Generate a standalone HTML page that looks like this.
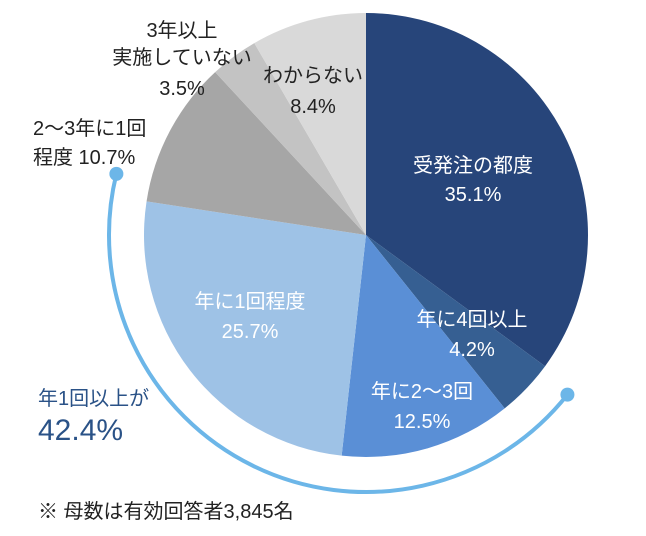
<!DOCTYPE html>
<html><head><meta charset="utf-8"><style>
body{margin:0;background:#fff;}
svg text{font-family:"Liberation Sans","Noto Sans CJK JP",sans-serif;}
</style></head><body>
<svg id="chart" width="646" height="531" viewBox="0 0 646 531" xmlns="http://www.w3.org/2000/svg">
<g id="slices"></g>
<path id="arc" fill="none" stroke="#6cb6e8" stroke-width="4"/>
<circle id="dot1" r="7" fill="#6cb6e8"/>
<circle id="dot2" r="7" fill="#6cb6e8"/>
<g font-size="20">
<text x="473" y="172" fill="#fff" text-anchor="middle">受発注の都度</text>
<text x="473" y="201" fill="#fff" text-anchor="middle">35.1%</text>
<text x="472" y="326" fill="#fff" text-anchor="middle">年に4回以上</text>
<text x="472" y="356" fill="#fff" text-anchor="middle">4.2%</text>
<text x="422" y="398" fill="#fff" text-anchor="middle">年に2～3回</text>
<text x="422" y="428" fill="#fff" text-anchor="middle">12.5%</text>
<text x="250" y="308" fill="#fff" text-anchor="middle">年に1回程度</text>
<text x="250" y="338" fill="#fff" text-anchor="middle">25.7%</text>
<text x="33" y="135" fill="#222">2～3年に1回</text>
<text x="33" y="164" fill="#222">程度 10.7%</text>
<text x="182" y="37" fill="#222" text-anchor="middle">3年以上</text>
<text x="182" y="64" fill="#222" text-anchor="middle">実施していない</text>
<text x="182" y="95" fill="#222" text-anchor="middle">3.5%</text>
<text x="313" y="82" fill="#222" text-anchor="middle">わからない</text>
<text x="313" y="113" fill="#222" text-anchor="middle">8.4%</text>
<text x="38" y="405" fill="#2a5287">年1回以上が</text>
<text x="38" y="440" fill="#2a5287" font-size="30">42.4%</text>
<text x="38" y="518" fill="#222">※ 母数は有効回答者3,845名</text>
</g>
</svg>
<script>
const categories=["受発注の都度","年に4回以上","年に2～3回","年に1回程度","2～3年に1回程度","3年以上実施していない","わからない"];
const values=[35.1,4.2,12.5,25.7,10.7,3.5,8.4];
const colors=["#27457a","#365f92","#5a8fd6","#9ec2e6","#a6a6a6","#c3c3c3","#d9d9d9"];
const cx=366,cy=235,r=222;
const total=values.reduce((a,b)=>a+b,0);
function pt(frac,rad){const a=frac*2*Math.PI;return [cx+rad*Math.sin(a),cy-rad*Math.cos(a)];}
const g=document.getElementById('slices');
let acc=0;
values.forEach((v,i)=>{
 const f0=acc/total,f1=(acc+v)/total;acc+=v;
 const p0=pt(f0,r),p1=pt(f1,r);
 const large=(f1-f0)>0.5?1:0;
 const p=document.createElementNS('http://www.w3.org/2000/svg','path');
 p.setAttribute('d',`M${cx},${cy}L${p0[0]},${p0[1]}A${r},${r} 0 ${large} 1 ${p1[0]},${p1[1]}Z`);
 p.setAttribute('fill',colors[i]);
 
 
 g.appendChild(p);
});
// bracket arc spanning "once a year or more" slices (indices 1..3), extended slightly
const ar=257;
const s0=values.slice(0,1).reduce((a,b)=>a+b,0)/total+0.006;
const s1=values.slice(0,4).reduce((a,b)=>a+b,0)/total+0.014;
const a0=pt(s0,ar),a1=pt(s1,ar);
document.getElementById('arc').setAttribute('d',`M${a0[0]},${a0[1]}A${ar},${ar} 0 ${(s1-s0)>0.5?1:0} 1 ${a1[0]},${a1[1]}`);
const d1=document.getElementById('dot1'),d2=document.getElementById('dot2');
d1.setAttribute('cx',a1[0]);d1.setAttribute('cy',a1[1]);
d2.setAttribute('cx',a0[0]);d2.setAttribute('cy',a0[1]);
</script>
</body></html>
